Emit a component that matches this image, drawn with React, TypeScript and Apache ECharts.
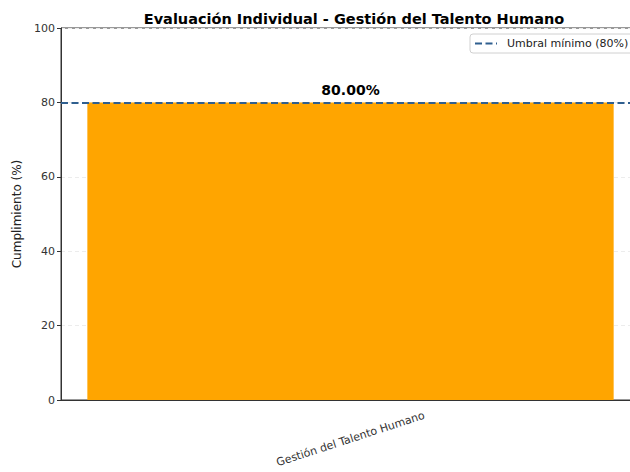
import React, { useEffect, useRef } from "react";
import * as echarts from "echarts";

const categories = ["Gestión del Talento Humano"];
const values = [80];
const threshold = 80;
const thresholdLabel = "Umbral mínimo (80%)";
const titleText = "Evaluación Individual - Gestión del Talento Humano";
const yAxisName = "Cumplimiento (%)";

const FONT = "DejaVu Sans";

export default function App() {
  const ref = useRef<HTMLDivElement>(null);
  useEffect(() => {
    if (!ref.current) return;
    const chart = echarts.init(ref.current, undefined, { renderer: "svg" });
    chart.setOption({
      animation: false,
      backgroundColor: "#ffffff",
      textStyle: { fontFamily: FONT },
      title: {
        text: titleText,
        left: 349,
        top: 6,
        textAlign: "center",
        textStyle: { fontFamily: FONT, fontSize: 14.5, fontWeight: "bold", color: "#000" },
      },
      grid: {
        left: 61,
        top: 28,
        width: 579,
        height: 372,
        show: true,
        borderColor: "#333",
        borderWidth: 1,
        backgroundColor: "transparent",
      },
      xAxis: {
        type: "category",
        data: categories,
        axisLine: { lineStyle: { color: "#333", width: 1 } },
        axisTick: { alignWithLabel: true, length: 4, lineStyle: { color: "#333" } },
        axisLabel: {
          rotate: 18,
          align: "center",
          verticalAlign: "middle",
          margin: 39,
          fontSize: 11,
          color: "#333",
          fontFamily: FONT,
        },
      },
      yAxis: {
        type: "value",
        min: 0,
        max: 100,
        interval: 20,
        name: yAxisName,
        nameLocation: "middle",
        nameGap: 38,
        nameTextStyle: { fontSize: 12, color: "#222", fontFamily: FONT },
        axisLine: { show: true, lineStyle: { color: "#333", width: 1 } },
        axisTick: { show: true, length: 4, lineStyle: { color: "#333" } },
        axisLabel: { fontSize: 11, color: "#333", fontFamily: FONT, margin: 6 },
        splitLine: { show: true, lineStyle: { color: "#ececec", type: [4, 3], width: 1 } },
      },
      series: [
        {
          type: "bar",
          data: values,
          barWidth: "90.9%",
          itemStyle: { color: "#FFA500" },
          label: {
            show: true,
            position: "top",
            distance: 5,
            formatter: (p: any) => Number(p.value).toFixed(2) + "%",
            fontSize: 14,
            fontWeight: "bold",
            color: "#000",
            fontFamily: FONT,
          },
          markLine: {
            silent: true,
            symbol: "none",
            label: { show: false },
            lineStyle: { color: "#2f5f8f", width: 2, type: [7, 3.5] },
            data: [{ yAxis: threshold }],
            z: 5,
          },
        },
      ],
      graphic: [
        {
          type: "rect",
          shape: { x: 470, y: 34, width: 175, height: 19, r: 3 },
          style: { fill: "rgba(255,255,255,0.85)", stroke: "#d0d0d0", lineWidth: 1 },
          z: 100,
        },
        {
          type: "line",
          shape: { x1: 475, y1: 43.5, x2: 497, y2: 43.5 },
          style: { stroke: "#2f5f8f", lineWidth: 2, lineDash: [7, 3.5] },
          z: 101,
        },
        {
          type: "text",
          x: 507,
          y: 43.5,
          style: {
            text: thresholdLabel,
            fontSize: 11,
            fontFamily: FONT,
            fill: "#222",
            verticalAlign: "middle",
            align: "left",
          },
          z: 101,
        },
      ],
    });
    return () => chart.dispose();
  }, []);
  return (
    <div
      style={{
        position: "fixed",
        left: 0,
        top: 0,
        width: 630,
        height: 472,
        overflow: "hidden",
      }}
    >
      <div ref={ref} style={{ width: 660, height: 472 }} />
    </div>
  );
}
